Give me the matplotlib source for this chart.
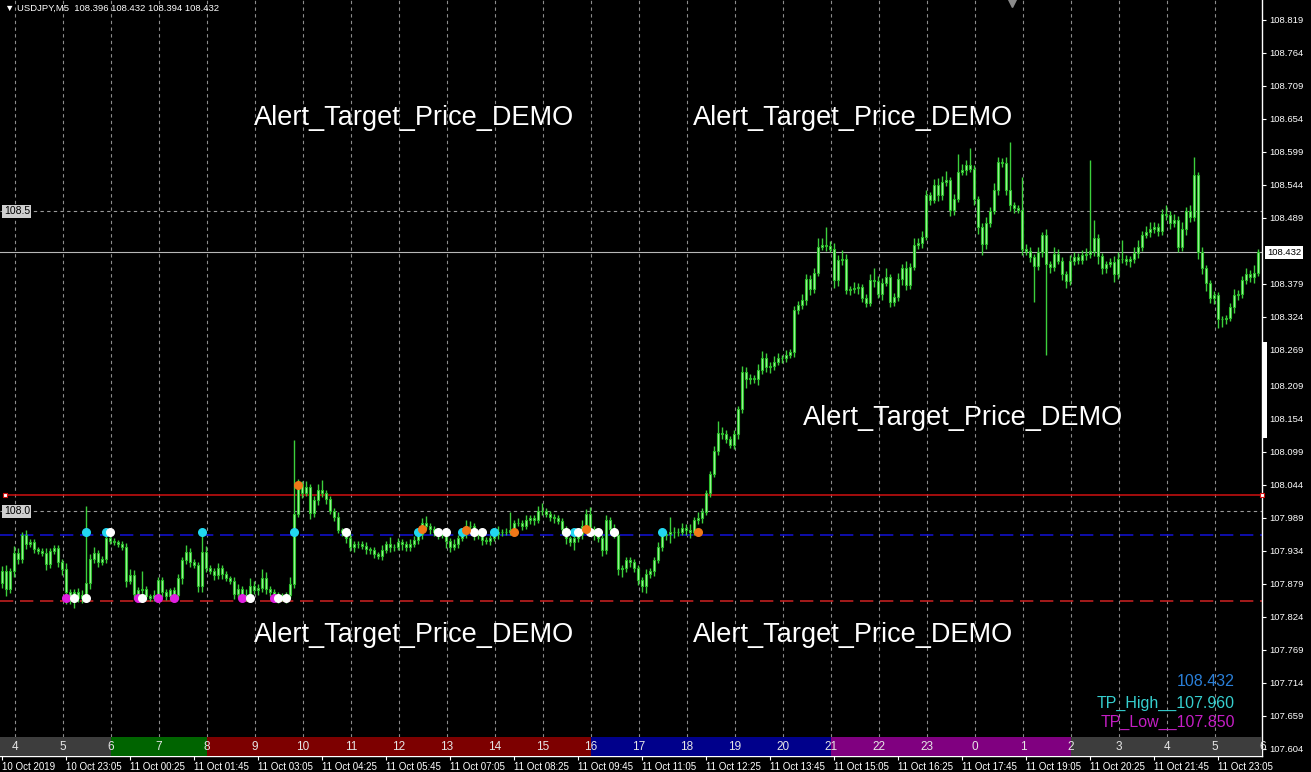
import matplotlib
matplotlib.use("Agg")
import matplotlib.pyplot as plt
from matplotlib.patches import Rectangle

plt.rcParams['font.family'] = ['Liberation Sans', 'DejaVu Sans']

# ---- data (prices in points above 107.000, M5 bars from 10 Oct 21:45) ----
base = 107.0
first_open = 880
closes = [
    900, 870, 900, 930, 920, 960, 945, 948, 937, 934,
    930, 912, 934, 938, 915, 903, 865, 852, 866, 855,
    860, 880, 920, 930, 915, 920, 955, 950, 948, 945,
    941, 884, 894, 862, 868, 870, 858, 855, 860, 885,
    865, 858, 868, 860, 888, 918, 932, 915, 910, 875,
    932, 905, 900, 893, 905, 895, 888, 884, 862, 870,
    856, 860, 876, 868, 872, 888, 870, 865, 855, 860,
    857, 860, 878, 996, 1045, 1030, 1040, 997, 1018, 1035,
    1030, 1020, 1000, 990, 968, 965, 955, 940, 945, 945,
    942, 937, 935, 928, 925, 935, 945, 940, 940, 948,
    945, 940, 945, 952, 962, 980, 975, 970, 965, 960,
    960, 950, 940, 945, 955, 962, 975, 975, 962, 960,
    952, 950, 955, 962, 965, 965, 966, 968, 980, 980,
    975, 985, 988, 985, 1000, 1000, 995, 990, 988, 983,
    970, 955, 948, 955, 962, 975, 995, 970, 960, 955,
    935, 985, 970, 960, 903, 905, 918, 915, 905, 885,
    875, 895, 900, 918, 940, 960, 962, 965, 965, 966,
    972, 968, 966, 985, 988, 998, 1030, 1062, 1100, 1130,
    1128, 1120, 1110, 1128, 1170, 1232, 1220, 1222, 1220, 1235,
    1255, 1240, 1242, 1248, 1255, 1255, 1260, 1265, 1335, 1344,
    1352, 1388, 1370, 1398, 1441, 1444, 1442, 1438, 1385, 1419,
    1421, 1369, 1370, 1373, 1374, 1355, 1348, 1385, 1384, 1363,
    1381, 1391, 1349, 1358, 1387, 1405, 1377, 1408, 1444, 1447,
    1458, 1527, 1519, 1544, 1527, 1549, 1552, 1502, 1521, 1566,
    1569, 1577, 1571, 1521, 1474, 1446, 1480, 1500, 1535, 1583,
    1580, 1535, 1510, 1506, 1503, 1438, 1434, 1424, 1409, 1432,
    1460, 1413, 1408, 1429, 1418, 1395, 1384, 1418, 1424, 1419,
    1427, 1429, 1434, 1455, 1425, 1405, 1413, 1415, 1395, 1420,
    1420, 1418, 1420, 1430, 1440, 1460, 1466, 1470, 1474, 1467,
    1496, 1494, 1480, 1485, 1440, 1470, 1500, 1490, 1560, 1433,
    1405, 1380, 1355, 1360, 1320, 1320, 1323, 1340, 1360, 1363,
    1385, 1395, 1390, 1398, 1432,
]
upper_wick = [
    8, 10, 6, 12, 8, 5, 8, 6, 5, 4,
    5, 8, 5, 6, 5, 6, 10, 6, 5, 6,
    8, 128, 8, 10, 6, 5, 10, 12, 5, 4,
    5, 6, 10, 8, 5, 30, 6, 4, 8, 6,
    6, 5, 4, 5, 8, 6, 12, 6, 5, 6,
    37, 10, 6, 5, 8, 6, 5, 4, 6, 8,
    6, 10, 12, 8, 6, 15, 10, 6, 5, 5,
    4, 5, 12, 122, 8, 6, 10, 5, 8, 10,
    17, 6, 5, 6, 8, 4, 5, 8, 6, 5,
    5, 6, 4, 5, 4, 8, 6, 12, 5, 8,
    6, 5, 8, 6, 5, 8, 12, 6, 5, 5,
    6, 5, 5, 8, 6, 5, 10, 8, 5, 4,
    6, 5, 5, 6, 10, 5, 6, 31, 6, 8,
    5, 8, 6, 5, 8, 13, 6, 5, 6, 5,
    6, 5, 4, 8, 5, 10, 8, 12, 6, 5,
    5, 8, 6, 8, 5, 6, 5, 6, 5, 5,
    5, 8, 5, 6, 8, 5, 5, 26, 8, 6,
    8, 6, 10, 6, 10, 8, 6, 5, 8, 20,
    10, 8, 6, 8, 6, 10, 8, 6, 5, 10,
    12, 8, 6, 10, 8, 5, 8, 6, 8, 6,
    10, 8, 6, 8, 15, 12, 30, 8, 10, 8,
    15, 8, 6, 10, 6, 5, 8, 10, 20, 8,
    8, 15, 5, 6, 10, 8, 12, 6, 12, 8,
    10, 8, 6, 10, 12, 10, 15, 6, 8, 30,
    10, 8, 28, 6, 5, 6, 10, 8, 12, 8,
    6, 10, 81, 6, 5, 54, 8, 6, 5, 8,
    6, 10, 5, 12, 8, 6, 5, 10, 8, 6,
    8, 10, 151, 30, 8, 6, 5, 8, 10, 12,
    32, 8, 6, 10, 12, 8, 10, 12, 8, 6,
    8, 15, 6, 10, 8, 12, 8, 10, 30, 5,
    8, 6, 5, 8, 5, 6, 5, 8, 10, 6,
    8, 10, 8, 12, 6,
]
lower_wick = [
    8, 12, 6, 10, 8, 6, 8, 5, 6, 5,
    5, 10, 6, 5, 8, 10, 20, 6, 14, 6,
    8, 12, 10, 6, 8, 5, 6, 5, 5, 5,
    5, 10, 6, 8, 14, 20, 6, 5, 5, 12,
    8, 6, 6, 12, 6, 10, 6, 8, 5, 10,
    10, 6, 5, 8, 6, 8, 5, 6, 8, 6,
    8, 6, 12, 6, 8, 6, 8, 6, 7, 8,
    6, 10, 5, 6, 6, 8, 5, 10, 6, 8,
    6, 8, 5, 6, 5, 6, 8, 6, 8, 6,
    5, 8, 6, 6, 5, 6, 5, 8, 6, 5,
    10, 6, 6, 5, 6, 8, 5, 8, 6, 6,
    5, 12, 8, 5, 6, 5, 6, 8, 10, 6,
    8, 5, 6, 5, 8, 6, 5, 6, 8, 5,
    6, 5, 6, 8, 5, 6, 5, 6, 8, 5,
    8, 10, 6, 12, 6, 8, 10, 10, 8, 6,
    10, 6, 8, 5, 10, 12, 6, 8, 6, 8,
    9, 12, 6, 8, 5, 6, 8, 15, 10, 6,
    6, 8, 10, 5, 6, 8, 5, 6, 5, 6,
    8, 6, 5, 6, 8, 6, 15, 8, 6, 10,
    6, 8, 10, 6, 5, 8, 6, 5, 8, 6,
    6, 8, 10, 6, 5, 6, 8, 6, 12, 10,
    8, 6, 8, 6, 10, 6, 8, 6, 10, 8,
    10, 6, 8, 6, 8, 10, 8, 6, 5, 6,
    8, 6, 8, 5, 10, 8, 6, 10, 8, 6,
    6, 8, 5, 10, 12, 19, 8, 6, 5, 8,
    6, 8, 10, 8, 6, 10, 6, 8, 60, 6,
    8, 153, 10, 8, 6, 10, 12, 6, 8, 6,
    6, 8, 6, 8, 12, 10, 8, 6, 12, 8,
    6, 8, 10, 6, 8, 6, 5, 8, 6, 8,
    6, 8, 10, 6, 8, 6, 10, 8, 6, 12,
    10, 12, 8, 10, 15, 12, 8, 6, 10, 8,
    8, 6, 8, 10, 6,
]

date_labels = ['10 Oct 2019', '10 Oct 23:05', '11 Oct 00:25', '11 Oct 01:45', '11 Oct 03:05',
               '11 Oct 04:25', '11 Oct 05:45', '11 Oct 07:05', '11 Oct 08:25', '11 Oct 09:45',
               '11 Oct 11:05', '11 Oct 12:25', '11 Oct 13:45', '11 Oct 15:05', '11 Oct 16:25',
               '11 Oct 17:45', '11 Oct 19:05', '11 Oct 20:25', '11 Oct 21:45', '11 Oct 23:05']
price_labels = ['108.819', '108.764', '108.709', '108.654', '108.599', '108.544', '108.489',
                '108.379', '108.324', '108.269', '108.209', '108.154', '108.099', '108.044',
                '107.989', '107.934', '107.879', '107.824', '107.769', '107.714', '107.659', '107.604']
hour_labels = [4, 5, 6, 7, 8, 9, 10, 11, 12, 13, 14, 15, 16, 17, 18, 19, 20, 21, 22, 23,
               0, 1, 2, 3, 4, 5, 6]
session_colors = {'asia': '#3d3d3d', 'pre': '#006400', 'europe': '#7d0000',
                  'us': '#00008b', 'late': '#800080'}
hour_session = {3: 'asia', 4: 'asia', 5: 'asia', 6: 'pre', 7: 'pre',
                8: 'europe', 9: 'europe', 10: 'europe', 11: 'europe', 12: 'europe',
                13: 'europe', 14: 'europe', 15: 'europe', 16: 'us', 17: 'us', 18: 'us',
                19: 'us', 20: 'us', 21: 'late', 22: 'late', 23: 'late', 0: 'late', 1: 'late',
                2: 'asia'}

cyan_bars = [21, 26, 50, 73, 104, 115, 123, 143, 165]
white_high_bars = [27, 86, 109, 111, 118, 120, 141, 144, 147, 149, 153]
orange_bars = [74, 105, 116, 128, 146, 174]
orange_prices = [108.043, 107.970, 107.968, 107.965, 107.970, 107.965]
magenta_bars = [16, 34, 39, 43, 60, 68]
white_low_bars = [18, 21, 35, 62, 69, 71]

tp_high = 107.960
tp_low = 107.850
alert_level = 108.027
last_price = 108.432
round_levels = [108.5, 108.0]

# ---- figure ----
W, H = 1311, 772
fig = plt.figure(figsize=(W / 100, H / 100), dpi=100, facecolor='black')
ax = fig.add_axes([0, 16 / H, 1262 / W, 756 / H])
ax.set_facecolor('black')
ax.set_xlim(-0.5, 315)
ax.set_ylim(107.592, 108.8523)

# hour separators
for k in range(26):
    ax.axvline(3.25 + 12 * k, ymin=0.025, ymax=1, color='#8c8c8c', lw=0.8,
               ls=(0, (3, 3)), zorder=1)

# levels
for lv in round_levels:
    ax.axhline(lv, color='#9a9a9a', lw=0.8, ls=(0, (3, 3)), zorder=1)
    ax.text(0.003, lv, f'{lv:.1f}', transform=ax.get_yaxis_transform(), fontsize=7.5,
            color='black', ha='left', va='center', zorder=6,
            bbox=dict(boxstyle='square,pad=0.15', fc='#cfcfcf', ec='none'))
ax.axhline(last_price, color='#b8b8b8', lw=0.8, zorder=1)
ax.axhline(tp_high, color='#1010c8', lw=1.2, ls=(0, (8, 4)), zorder=1)
ax.axhline(tp_low, color='#c02020', lw=1.2, ls=(0, (8, 4)), zorder=1)
ax.hlines(alert_level, 0.75, 315, color='#d01010', lw=1.1, zorder=2)
ax.plot([0.75, 315], [alert_level, alert_level], 's', ms=3.5, mfc='white', mec='#d01010',
        mew=0.8, zorder=3, clip_on=False)

# candles
opens, highs, lows, cl = [], [], [], []
prev = first_open
for c, uw, dw in zip(closes, upper_wick, lower_wick):
    o = prev
    opens.append(base + o / 1000)
    cl.append(base + c / 1000)
    highs.append(base + (max(o, c) + uw) / 1000)
    lows.append(base + (min(o, c) - dw) / 1000)
    prev = c
xs = list(range(len(closes)))
ax.vlines(xs, lows, highs, color='#3ccf3c', lw=1, zorder=3)
bottoms = [min(o, c) for o, c in zip(opens, cl)]
heights = [max(abs(c - o), 0.0012) for o, c in zip(opens, cl)]
ax.bar(xs, heights, bottom=bottoms, width=0.72, color='#a6f7a0', edgecolor='#2cbf2c',
       lw=0.8, zorder=4)

# signal dots
ax.scatter(cyan_bars, [tp_high + 0.006] * len(cyan_bars), s=30, color='#22d8f0', zorder=6)
ax.scatter(white_high_bars, [tp_high + 0.006] * len(white_high_bars), s=30, color='white', zorder=6)
ax.scatter(orange_bars, orange_prices, s=30, color='#f07818', zorder=6)
ax.scatter(magenta_bars, [tp_low + 0.006] * len(magenta_bars), s=30, color='#e020e0', zorder=6)
ax.scatter(white_low_bars, [tp_low + 0.006] * len(white_low_bars), s=30, color='white', zorder=7)

# session strip
tr = ax.get_xaxis_transform()
ax.add_patch(Rectangle((-0.5, 0), 3.75, 0.025, transform=tr, color=session_colors['asia'],
                       zorder=8, lw=0))
for k, h in enumerate(hour_labels):
    x0 = 3.25 + 12 * k
    ax.add_patch(Rectangle((x0, 0), 12, 0.025, transform=tr,
                           color=session_colors[hour_session[h]], zorder=8, lw=0))
    ax.text(x0, 0.0125, str(h), transform=tr, ha='center', va='center', fontsize=8.5,
            color='#e6e6e6', zorder=9)

# axes styling
for s in ['top', 'left']:
    ax.spines[s].set_visible(False)
for s in ['right', 'bottom']:
    ax.spines[s].set_color('white')
    ax.spines[s].set_linewidth(1)
ax.yaxis.tick_right()
ax.set_yticks([float(p) for p in price_labels])
ax.set_yticklabels(price_labels)
ax.tick_params(axis='y', colors='white', labelsize=6.8, length=3, pad=2)
ax.set_xticks(list(range(0, 315, 16)))
ax.set_xticklabels(date_labels, ha='left')
ax.tick_params(axis='x', colors='white', labelsize=7, length=3, pad=1.5)
ax.text(1.004, last_price, f'{last_price:.3f}', transform=ax.get_yaxis_transform(),
        fontsize=6.8, color='black', ha='left', va='center',
        bbox=dict(boxstyle='square,pad=0.2', fc='white', ec='none'))

# right scroll marker and shift triangle
fig.add_artist(Rectangle((1263 / W, 1 - 438 / H), 4 / W, 96 / H, transform=fig.transFigure,
                         color='white', lw=0))
ax.plot(252.5, 108.847, marker='v', color='#8a8a8a', ms=6, clip_on=False, zorder=9)

# texts
fig.text(5 / W, 1 - 8 / H, '\u25bc USDJPY,M5  108.396 108.432 108.394 108.432', fontsize=6.8,
         color='white', ha='left', va='center')
for x, y in [(254, 118), (693, 118), (803, 418), (254, 635), (693, 635)]:
    fig.text(x / W, 1 - y / H, 'Alert_Target_Price_DEMO', fontsize=19.5, color='white',
             ha='left', va='center')
fig.text(1235 / W, 1 - 682 / H, f'{last_price:.3f}', fontsize=11.5, color='#2a7fd8',
         ha='right', va='center')
fig.text(1235 / W, 1 - 703 / H, f'TP_High__{tp_high:.3f}', fontsize=11.5, color='#36cfcf',
         ha='right', va='center')
fig.text(1235 / W, 1 - 722 / H, f'TP_Low__{tp_low:.3f}', fontsize=11.5, color='#c41ec4',
         ha='right', va='center')

fig.savefig('out.png', dpi=100, facecolor='black')
